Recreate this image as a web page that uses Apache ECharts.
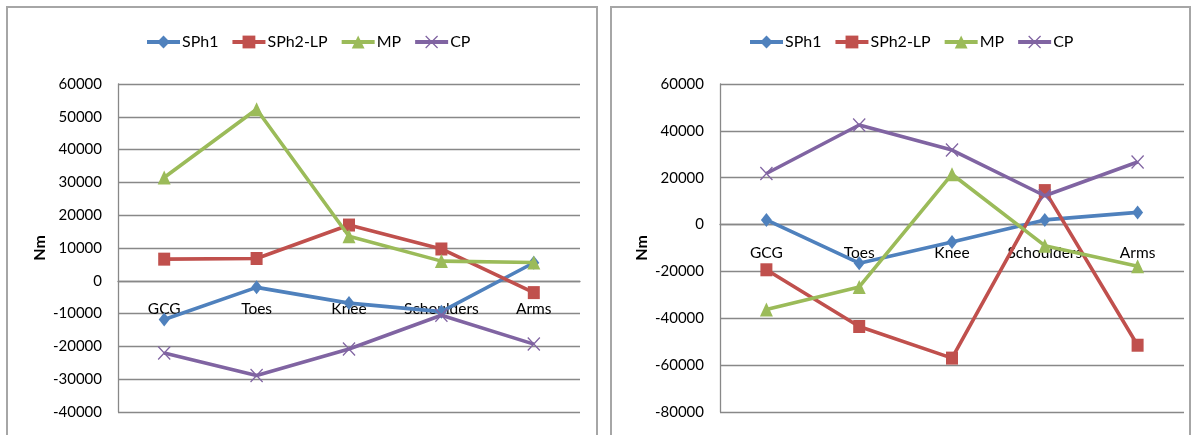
<!DOCTYPE html>
<html>
<head>
<meta charset="utf-8">
<script src="https://cdn.jsdelivr.net/npm/echarts@6/dist/echarts.min.js"></script>
<style>
  html, body { margin: 0; padding: 0; background: #fff; }
  #chart { width: 1194px; height: 435px; }
</style>
</head>
<body>
<div id="chart"></div>
<script>
// Joint moments (Nm) per body segment, two phases side by side
const categories = ['GCG', 'Toes', 'Knee', 'Schoulders', 'Arms'];
const seriesNames = ['SPh1', 'SPh2-LP', 'MP', 'CP'];

// left panel
const leftSPh1 = [-11800, -2000, -6800, -9400, 5500];
const leftSPh2LP = [6600, 6800, 17000, 9700, -3600];
const leftMP = [31500, 52300, 13600, 6000, 5600];
const leftCP = [-22000, -28900, -20800, -10500, -19300];

// right panel
const rightSPh1 = [2000, -16500, -7400, 2000, 5200];
const rightSPh2LP = [-19300, -43500, -57000, 14500, -51500];
const rightMP = [-36300, -26600, 21500, -9000, -17800];
const rightCP = [21800, 42500, 31800, 12300, 26700];

// value-axis ranges
const leftAxis = { min: -40000, max: 60000, interval: 10000 };
const rightAxis = { min: -80000, max: 60000, interval: 20000 };

const FONT = "Lato, 'Open Sans', sans-serif";
const colors = ['#4F81BD', '#C0504D', '#9BBB59', '#8064A2'];
const crossPath = 'path://M0,7 L7,0 L50,43 L93,0 L100,7 L57,50 L100,93 L93,100 L50,57 L7,100 L0,93 L43,50 Z';
const symbols = ['diamond', 'rect', 'triangle', crossPath];
const symbolSizes = [[11, 14], [12, 13], [13, 14], [13, 14]];

const gridLine = '#888888';
const PLOT_TOP = 84;
const PLOT_HEIGHT = 328;

// the category axis crosses the value axis at zero
function zeroOffset(r) {
  return -((0 - r.min) / (r.max - r.min)) * PLOT_HEIGHT;
}

function xAxis(gridIndex, r) {
  return {
    type: 'category', gridIndex, data: categories, boundaryGap: true,
    position: 'bottom', offset: zeroOffset(r),
    axisLine: { onZero: false, lineStyle: { color: gridLine, width: 1.3 } },
    axisTick: { show: false },
    axisLabel: { color: '#000', fontFamily: FONT, fontSize: 15.5, margin: 20, interval: 0, hideOverlap: false },
    splitLine: { show: false },
    z: 1
  };
}
function yAxis(gridIndex, r) {
  return {
    type: 'value', gridIndex, min: r.min, max: r.max, interval: r.interval,
    name: 'Nm', nameLocation: 'middle', nameRotate: 90, nameGap: 70, nameMoveOverlap: false,
    nameTextStyle: { color: '#000', fontFamily: FONT, fontSize: 16, fontWeight: 'bold' },
    axisLine: { show: true, lineStyle: { color: gridLine, width: 1.3 } },
    axisTick: { show: false },
    axisLabel: { color: '#000', fontFamily: FONT, fontSize: 15, margin: 16, formatter: v => String(v) },
    splitLine: { show: true, lineStyle: { color: gridLine, width: 1.3 } }
  };
}
function makeSeries(idx, datasets) {
  return datasets.map((d, i) => ({
    name: seriesNames[i], type: 'line', xAxisIndex: idx, yAxisIndex: idx, data: d,
    symbol: symbols[i], symbolSize: symbolSizes[i], showAllSymbol: true,
    lineStyle: { color: colors[i], width: 3.6 },
    itemStyle: { color: colors[i] },
    emphasis: { disabled: true },
    animation: false, z: 2 + i
  }));
}
function legend(left) {
  return {
    left, top: 29, itemWidth: 33, itemHeight: 16, itemGap: 12,
    data: seriesNames, selectedMode: false,
    lineStyle: { width: 4 },
    textStyle: { color: '#000', fontFamily: FONT, fontSize: 16, padding: [0, 0, 0, -3] }
  };
}

const chart = echarts.init(document.getElementById('chart'), null, { renderer: 'canvas' });
chart.setOption({
  backgroundColor: '#fff',
  animation: false,
  color: colors,
  graphic: [
    { type: 'rect', shape: { x: 7, y: 7, width: 590, height: 440 }, style: { fill: 'none', stroke: '#a6a6a6', lineWidth: 2 }, silent: true, z: 0 },
    { type: 'rect', shape: { x: 611, y: 7, width: 579, height: 440 }, style: { fill: 'none', stroke: '#a6a6a6', lineWidth: 2 }, silent: true, z: 0 }
  ],
  legend: [legend(140), legend(743)],
  grid: [
    { left: 118, top: PLOT_TOP, width: 462, height: PLOT_HEIGHT, containLabel: false, outerBoundsMode: 'none' },
    { left: 720, top: PLOT_TOP, width: 464, height: PLOT_HEIGHT, containLabel: false, outerBoundsMode: 'none' }
  ],
  xAxis: [xAxis(0, leftAxis), xAxis(1, rightAxis)],
  yAxis: [yAxis(0, leftAxis), yAxis(1, rightAxis)],
  series: [
    ...makeSeries(0, [leftSPh1, leftSPh2LP, leftMP, leftCP]),
    ...makeSeries(1, [rightSPh1, rightSPh2LP, rightMP, rightCP])
  ]
});
</script>
</body>
</html>
